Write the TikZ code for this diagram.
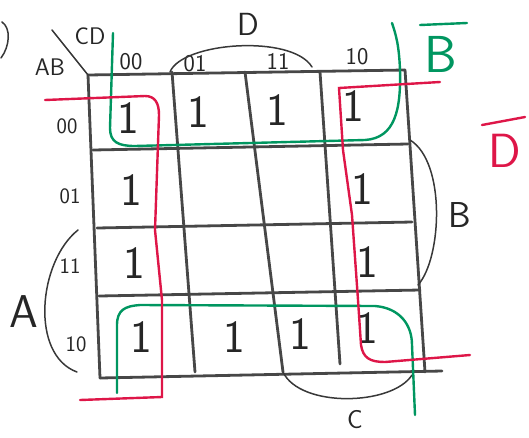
\documentclass[tikz,border=0pt]{standalone}
\usepackage{tikz}
\usetikzlibrary{positioning,calc}

\definecolor{penred}{RGB}{222,22,72}
\definecolor{pengreen}{RGB}{0,150,96}

\begin{document}
\begin{tikzpicture}[x=1pt, y=-1pt,
  gridline/.style={line width=2.8pt, draw=black!72, line cap=round},
  arcline/.style={line width=1.5pt, draw=black!78, line cap=round},
  redloop/.style={line width=2.4pt, draw=penred, line cap=round},
  greenloop/.style={line width=2.4pt, draw=pengreen, line cap=round},
  one/.style={font=\sffamily\fontsize{46}{46}\selectfont, inner sep=0pt, text=black!85},
  collbl/.style={font=\sffamily\fontsize{24}{24}\selectfont, inner sep=0pt, text=black!85},
  rowlbl/.style={font=\sffamily\fontsize{22}{22}\selectfont, inner sep=0pt, text=black!85},
  varlbl/.style={font=\sffamily\fontsize{40}{40}\selectfont, inner sep=0pt, text=black!85},
]
  \useasboundingbox (0,0) rectangle (529,437);

  % Grid of the map (slightly skewed, hand drawn)
  \draw[gridline] (88,75) -- (405,70);
  \draw[gridline] (93,150) -- (408,144);
  \draw[gridline] (97,228) -- (412,222);
  \draw[gridline] (99,296) -- (420,290);
  \draw[gridline] (100,378) -- (442,371);
  \draw[gridline] (88,75) -- (100,378);
  \draw[gridline] (172,72) -- (195,372);
  \draw[gridline] (245,72) -- (283,372);
  \draw[gridline] (320,72) -- (340,364);
  \draw[gridline] (405,70) -- (425,372);

  % Corner heading
  \draw[arcline] (52,30) -- (88,75);
  \node[collbl] (cd) at (90,36) {CD};
  \node[collbl] (ab) at (50,67) {AB};

  % Column and row labels
  \node[collbl] (c00) at (131,62) {00};
  \node[collbl] (c01) at (195,64) {01};
  \node[collbl] (c11) at (278,61) {11};
  \node[collbl] (c10) at (357,57) {10};
  \node[rowlbl] (r00) at (67,126) {00};
  \node[rowlbl] (r01) at (70,196) {01};
  \node[rowlbl] (r11) at (70,266) {11};
  \node[rowlbl] (r10) at (76,344) {10};

  % Variable ranges
  \draw[arcline] (170,72) .. controls (182,42) and (292,34) .. (312,67);
  \node[varlbl, font=\sffamily\fontsize{32}{32}\selectfont] (vd) at (248,24) {D};
  \draw[arcline] (78,230) .. controls (38,262) and (30,355) .. (77,372);
  \node[varlbl, font=\sffamily\fontsize{46}{46}\selectfont] (va) at (24,312) {A};
  \draw[arcline] (410,140) .. controls (446,162) and (442,258) .. (418,285);
  \node[varlbl, font=\sffamily\fontsize{36}{36}\selectfont] (vb) at (460,215) {B};
  \draw[arcline] (283,372) .. controls (300,408) and (392,406) .. (412,375);
  \node[varlbl, font=\sffamily\fontsize{26}{26}\selectfont] (vc) at (355,420) {C};
  \draw[arcline] (2,22) .. controls (11,28) and (10,46) .. (1,58);

  % Cells holding 1
  \node[one] (m00) at (128,118) {1};
  \node[one] (m01) at (198,112) {1};
  \node[one] (m03) at (277,110) {1};
  \node[one] (m02) at (353,106) {1};
  \node[one] (m40) at (131,190) {1};
  \node[one] (m42) at (362,189) {1};
  \node[one] (m120) at (134,263) {1};
  \node[one] (m122) at (367,262) {1};
  \node[one] (m80) at (141,337) {1};
  \node[one] (m81) at (234,337) {1};
  \node[one] (m83) at (300,334) {1};
  \node[one] (m82) at (367,328) {1};

  % Group B-bar (green)
  \draw[greenloop] (113,33) -- (110,128) .. controls (110,142) and (118,146) .. (135,146)
    -- (365,140) .. controls (395,138) and (401,110) .. (400,70)
    .. controls (399,45) and (396,35) .. (392,23);
  \draw[greenloop] (117,393) -- (117,325) .. controls (117,310) and (125,306) .. (140,305)
    -- (375,306) .. controls (400,308) and (412,325) .. (412,345) -- (415,415);
  \draw[greenloop] (420,25) -- (467,23);
  \node[varlbl, text=pengreen, font=\sffamily\fontsize{52}{52}\selectfont] (nb) at (441,54) {B};

  % Group D-bar (red)
  \draw[redloop] (45,100) -- (145,96) .. controls (155,96) and (159,103) .. (159,115)
    -- (155,230) -- (162,300) -- (162,397) -- (80,400);
  \draw[redloop] (440,82) -- (339,88) -- (343,150) -- (352,215) -- (358,300)
    -- (361,345) .. controls (363,358) and (370,362) .. (385,362) -- (470,355);
  \draw[redloop] (482,125) -- (525,117);
  \node[varlbl, text=penred, font=\sffamily\fontsize{48}{48}\selectfont] (nd) at (505,151) {D};
\end{tikzpicture}
\end{document}
